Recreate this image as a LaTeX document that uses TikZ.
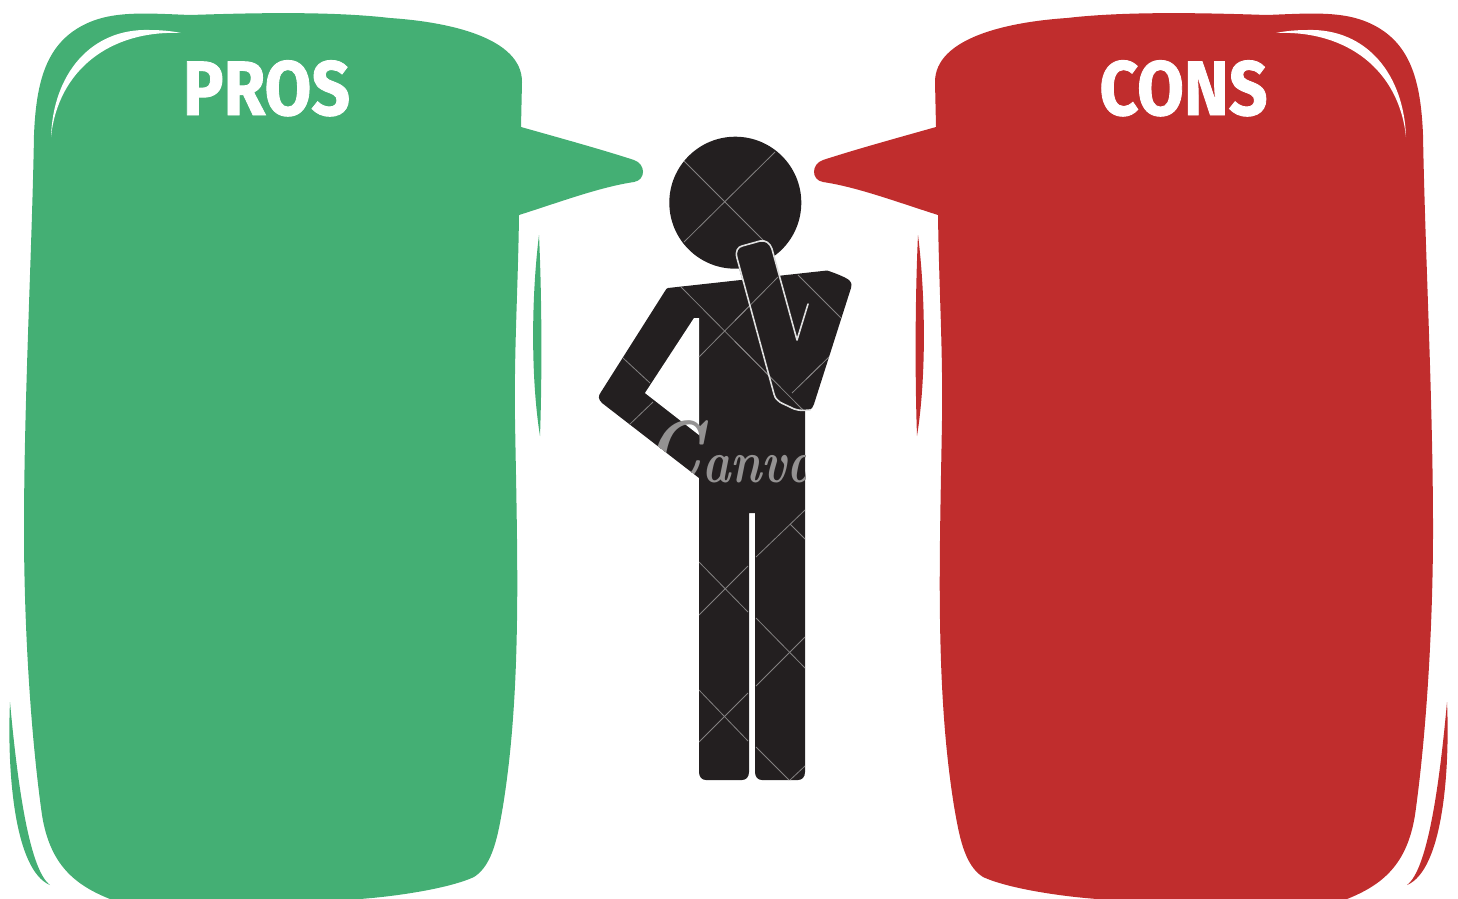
\documentclass[tikz,border=0pt]{standalone}
\usepackage{fontspec}
\setmainfont{Fira Sans}
\newfontfamily\headfont[BoldFeatures={FakeBold=1.2}]{Fira Sans}
\newfontfamily\wmfont[BoldFeatures={FakeBold=1.5}]{Latin Modern Roman}
\definecolor{prosgreen}{HTML}{44AF74}
\definecolor{consred}{HTML}{C02D2D}
\definecolor{figblack}{HTML}{231F20}
\definecolor{wmgrey}{HTML}{949292}
\newcommand{\bubblepath}{
  (34,135) .. controls (36,85) and (45,50) .. (75,30)
  .. controls (105,10) and (140,13) .. (190,15)
  .. controls (250,13) and (330,11) .. (390,18)
  .. controls (450,22) and (522,38) .. (522,82)
  -- (521,127)
  .. controls (560,138) and (600,149) .. (634,160)
  .. controls (646,164) and (646,180) .. (634,182)
  .. controls (600,187) and (560,202) .. (519,215)
  .. controls (518,290) and (514,350) .. (515,420)
  .. controls (516,480) and (518,560) .. (517,620)
  .. controls (516,690) and (512,750) .. (503,806)
  .. controls (498,835) and (493,865) .. (474,877)
  .. controls (450,888) and (400,896) .. (360,899)
  -- (110,899)
  .. controls (75,885) and (50,865) .. (42,815)
  .. controls (30,730) and (24,620) .. (24,530)
  .. controls (24,400) and (32,250) .. (34,135) -- cycle
}
\newcommand{\shineTL}{
  (51,137) .. controls (53,75) and (90,28) .. (150,30)
  .. controls (160,30) and (172,31) .. (181,33)
  .. controls (110,30) and (58,70) .. (51,137) -- cycle
}
\newcommand{\sliverBL}{
  (10,702) .. controls (7,770) and (14,870) .. (50,885)
  .. controls (30,870) and (18,790) .. (10,702) -- cycle
}
\newcommand{\sliverR}{
  (539,235) .. controls (542,300) and (542,380) .. (540,436)
  .. controls (531,380) and (531,300) .. (539,235) -- cycle
}
\newcommand{\figurepath}{
  (735.3,202.7) circle[radius=66]
  (668,288) -- (827,270.5) .. controls (835,273) and (845,277) .. (849,280)
  .. controls (852,283) and (852,286) .. (851,288)
  -- (814,404) .. controls (812,410) and (808,411) .. (805,411)
  -- (805,772) .. controls (805,777) and (802,780) .. (798,780)
  -- (762,780) .. controls (758,780) and (755,777) .. (755,772)
  -- (755,513) -- (749,513) -- (749,772)
  .. controls (749,777) and (746,780) .. (742,780)
  -- (706,780) .. controls (702,780) and (699,777) .. (699,772)
  -- (699,478) -- (602,403) .. controls (598,399) and (598,396) .. (601,392)
  -- (665,291) .. controls (666,289) and (667,288) .. (668,288) -- cycle
}
\tikzset{
  shine/.style={fill=white},
  wmline/.style={draw=wmgrey!85!figblack,line width=.8pt},
  armline/.style={draw=white!88!black,line width=1.6pt,line join=round,line cap=round},
  heading/.style={text=white,font=\headfont\fontsize{77}{77}\selectfont\bfseries,xscale=.88,inner sep=0pt,anchor=base}
}
\begin{document}
\begin{tikzpicture}[x=1pt,y=-1pt]
\useasboundingbox (0,0) rectangle (1458,898);
\clip (0,0) rectangle (1458,898);
% green bubble
\fill[prosgreen] \bubblepath;
\fill[shine] \shineTL;
\fill[prosgreen] \sliverBL;
\fill[prosgreen] \sliverR;
% red bubble
\begin{scope}[xshift=1457pt,xscale=-1]
\fill[consred] \bubblepath;
\fill[shine] \shineTL;
\fill[consred] \sliverBL;
\fill[consred] \sliverR;
\end{scope}
\node[heading] (pros) at (266.5,115) {PROS};
\node[heading] (cons) at (1183.5,115) {CONS};
% figure
\fill[figblack] \figurepath;
% armpit cut-out
\fill[white] (699,318) -- (694,318) -- (645,393) -- (699,435) -- cycle;
% watermark grid
\begin{scope}
\clip \figurepath;
\foreach \a/\b/\c/\d in {684/161/763/240, 775/152/684/242, 681/287/803/410, 778/277/699/357,
  798/275/841/318, 829/357/792/393, 623/358/650/383, 653/402/629/425,
  699/562/748/612, 699/615/748/566, 699/690/748/741, 699/742/748/693,
  756/557/805/510, 790/524/805/539, 756/618/805/668, 756/686/805/637,
  756/747/789/780, 790/780/805/766}
  \draw[wmline] (\a,\b) -- (\c,\d);
\node[text=wmgrey,font=\wmfont\fontsize{60}{60}\selectfont\bfseries\itshape,inner sep=0pt,anchor=base west,xscale=.8] (wm) at (644,482) {{\fontsize{88}{88}\selectfont C}anva};
\end{scope}
% raised forearm outline
\fill[figblack] (775,397) -- (736,257) .. controls (735,250) and (738,247) .. (742,246) -- (760,241) .. controls (766,240) and (770,243) .. (772,249) -- (797,340) -- (812,408) -- (790,408) -- cycle;
\begin{scope}
\clip (735,240) rectangle (820,420);
\foreach \a/\b/\c/\d in {681/287/803/410, 778/277/699/357, 829/357/792/393}
  \draw[wmline] (\a,\b) -- (\c,\d);
\end{scope}
\draw[armline] (810,410) .. controls (800,411) and (795,410) .. (790,407)
  .. controls (782,403) and (776,402) .. (774,394)
  -- (737,258) .. controls (735,251) and (738,247) .. (742,246)
  -- (760,241) .. controls (766,240) and (770,243) .. (772,249)
  -- (797,340) -- (808,304);
\end{tikzpicture}
\end{document}
